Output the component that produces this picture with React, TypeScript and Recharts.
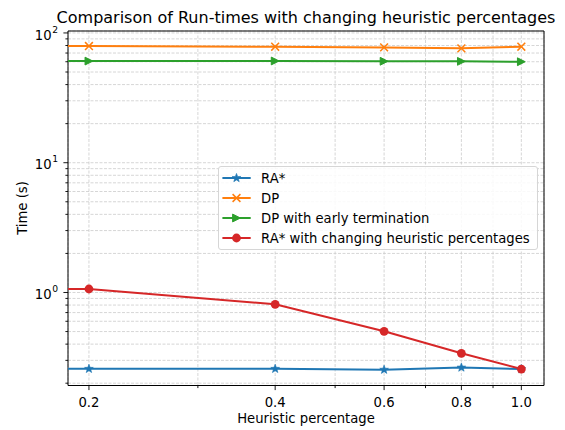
import React from "react";
import { LineChart, Line, XAxis, YAxis, CartesianGrid, Legend, ReferenceArea } from "recharts";

const FONT = "'DejaVu Sans', Verdana, sans-serif";
const FS = 13.2;

// heuristic percentage; the first run (0 %) sits off the left edge of the log axis
const heuristic = [0.001, 0.2, 0.4, 0.6, 0.8, 1.0];
const raStar = [0.258, 0.258, 0.258, 0.254, 0.264, 0.257];
const dp = [79.3, 79.3, 78.3, 77.4, 76.1, 78.3];
const dpEarly = [60.7, 60.7, 60.8, 60.5, 60.4, 60.0];
const raStarChanging = [1.064, 1.064, 0.811, 0.502, 0.34, 0.257];

const xTicks = [0.2, 0.3, 0.4, 0.5, 0.6, 0.7, 0.8, 0.9, 1.0];
const xLabels: Record<string, string> = { "0.2": "0.2", "0.4": "0.4", "0.6": "0.6", "0.8": "0.8", "1": "1.0" };
const yTicks = [
  0.2, 0.3, 0.4, 0.5, 0.6, 0.7, 0.8, 0.9,
  1, 2, 3, 4, 5, 6, 7, 8, 9,
  10, 20, 30, 40, 50, 60, 70, 80, 90,
  100,
];

const xDomain = [0.185, 1.088];
const yDomain = [0.192, 103.5];

const series = [
  { key: "ra", name: "RA*", color: "#1f77b4", marker: "star" },
  { key: "dp", name: "DP", color: "#ff7f0e", marker: "x" },
  { key: "dpe", name: "DP with early termination", color: "#2ca02c", marker: "tri" },
  { key: "rac", name: "RA* with changing heuristic percentages", color: "#d62728", marker: "circle" },
];

const data = heuristic.map((hp, i) => ({
  hp,
  ra: raStar[i],
  dp: dp[i],
  dpe: dpEarly[i],
  rac: raStarChanging[i],
}));

function Marker({ cx, cy, kind, color }: { cx: number; cy: number; kind: string; color: string }) {
  if (kind === "circle") return <circle cx={cx} cy={cy} r={4.4} fill={color} />;
  if (kind === "x") {
    const s = 3.9;
    return (
      <g stroke={color} strokeWidth={1.5}>
        <line x1={cx - s} y1={cy - s} x2={cx + s} y2={cy + s} />
        <line x1={cx - s} y1={cy + s} x2={cx + s} y2={cy - s} />
      </g>
    );
  }
  if (kind === "tri") {
    const s = 3.9;
    return (
      <polygon
        points={`${cx + s},${cy} ${cx - s},${cy - s} ${cx - s},${cy + s}`}
        fill={color}
        stroke={color}
        strokeWidth={1}
      />
    );
  }
  // star
  const pts: string[] = [];
  for (let k = 0; k < 10; k++) {
    const r = k % 2 === 0 ? 4.6 : 1.9;
    const a = -Math.PI / 2 + (k * Math.PI) / 5;
    pts.push(`${cx + r * Math.cos(a)},${cy + r * Math.sin(a)}`);
  }
  return <polygon points={pts.join(" ")} fill={color} stroke={color} strokeWidth={0.6} />;
}

function XTick(props: any) {
  const { x, y, payload } = props;
  const label = xLabels[String(payload.value)];
  const len = label ? 4.6 : 2.6;
  return (
    <g>
      <line x1={x} x2={x} y1={y} y2={y + len} stroke="#000" strokeWidth={0.9} />
      {label && (
        <text x={x} y={y + 21.4} textAnchor="middle" fontSize={FS} fontFamily={FONT} fill="#000">
          {label}
        </text>
      )}
    </g>
  );
}

function YTick(props: any) {
  const { x, y, payload } = props;
  const lg = Math.log10(payload.value);
  const major = Math.abs(lg - Math.round(lg)) < 1e-6;
  const len = major ? 4.6 : 2.6;
  return (
    <g>
      <line x1={x} x2={x - len} y1={y} y2={y} stroke="#000" strokeWidth={0.9} />
      {major && (
        <text x={x - 10} y={y + 6.6} textAnchor="end" fontSize={FS} fontFamily={FONT} fill="#000">
          10
          <tspan dx={0.5} dy={-7} fontSize={9.2}>
            {Math.round(lg)}
          </tspan>
        </text>
      )}
    </g>
  );
}

function LegendBox() {
  return (
    <div
      style={{
        width: 320,
        height: 84,
        boxSizing: "border-box",
        border: "1px solid #d6d6d6",
        borderRadius: 3,
        background: "rgba(255,255,255,0.85)",
        position: "relative",
      }}
    >
      {series.map((s, i) => (
        <div key={s.key} style={{ position: "absolute", left: 0, top: 1.3 + i * 20, height: 20, display: "flex", alignItems: "center" }}>
          <svg width={40} height={20}>
            <line x1={3.4} x2={31.7} y1={10} y2={10} stroke={s.color} strokeWidth={2} />
            <Marker cx={17.5} cy={10} kind={s.marker} color={s.color} />
          </svg>
          <span style={{ fontFamily: FONT, fontSize: FS, color: "#000", marginLeft: 2, whiteSpace: "nowrap" }}>{s.name}</span>
        </div>
      ))}
    </div>
  );
}

export default function App() {
  return (
    <div style={{ position: "absolute", left: 0, top: 0, width: 565, height: 430, background: "#fff" }}>
      <LineChart width={565} height={430} data={data} margin={{ top: 31, right: 21, left: 8, bottom: 14.5 }}>
        <CartesianGrid stroke="#cbcbcb" strokeWidth={0.8} strokeDasharray="3 1.5" />
        <XAxis
          type="number"
          dataKey="hp"
          scale="log"
          domain={xDomain}
          allowDataOverflow
          ticks={xTicks}
          interval={0}
          tick={<XTick />}
          tickSize={0}
          tickMargin={0}
          axisLine={false}
          tickLine={false}
          height={30}
        />
        <YAxis
          type="number"
          scale="log"
          domain={yDomain}
          allowDataOverflow
          ticks={yTicks}
          interval={0}
          tick={<YTick />}
          tickSize={0}
          tickMargin={0}
          axisLine={false}
          tickLine={false}
          width={60}
        />
        {series.map((s) => (
          <Line
            key={s.key}
            dataKey={s.key}
            name={s.name}
            type="linear"
            stroke={s.color}
            strokeWidth={2}
            isAnimationActive={false}
            activeDot={false}
            dot={(p: any) => {
              if (p.cx == null || p.cy == null || p.payload.hp < 0.1) return <g key={p.key} />;
              return <Marker key={p.key} cx={p.cx} cy={p.cy} kind={s.marker} color={s.color} />;
            }}
          />
        ))}
        <ReferenceArea
          x1={xDomain[0]}
          x2={xDomain[1]}
          y1={yDomain[0]}
          y2={yDomain[1]}
          fill="none"
          fillOpacity={0}
          stroke="#000"
          strokeWidth={1}
          ifOverflow="visible"
        />
        <Legend
          layout="horizontal"
          verticalAlign="middle"
          align="center"
          wrapperStyle={{ left: 218, top: 166, width: 320, height: 84 }}
          content={() => <LegendBox />}
        />
      </LineChart>
      <svg width={565} height={430} style={{ position: "absolute", left: 0, top: 0, pointerEvents: "none" }}>
        <text x={306} y={22.5} textAnchor="middle" fontSize={16} fontFamily={FONT} fill="#000">
          Comparison of Run-times with changing heuristic percentages
        </text>
        <text x={306} y={423} textAnchor="middle" fontSize={FS} fontFamily={FONT} fill="#000">
          Heuristic percentage
        </text>
        <text x={26.7} y={208} textAnchor="middle" fontSize={FS} fontFamily={FONT} fill="#000" transform="rotate(-90 26.7 208)">
          Time (s)
        </text>
      </svg>
    </div>
  );
}
